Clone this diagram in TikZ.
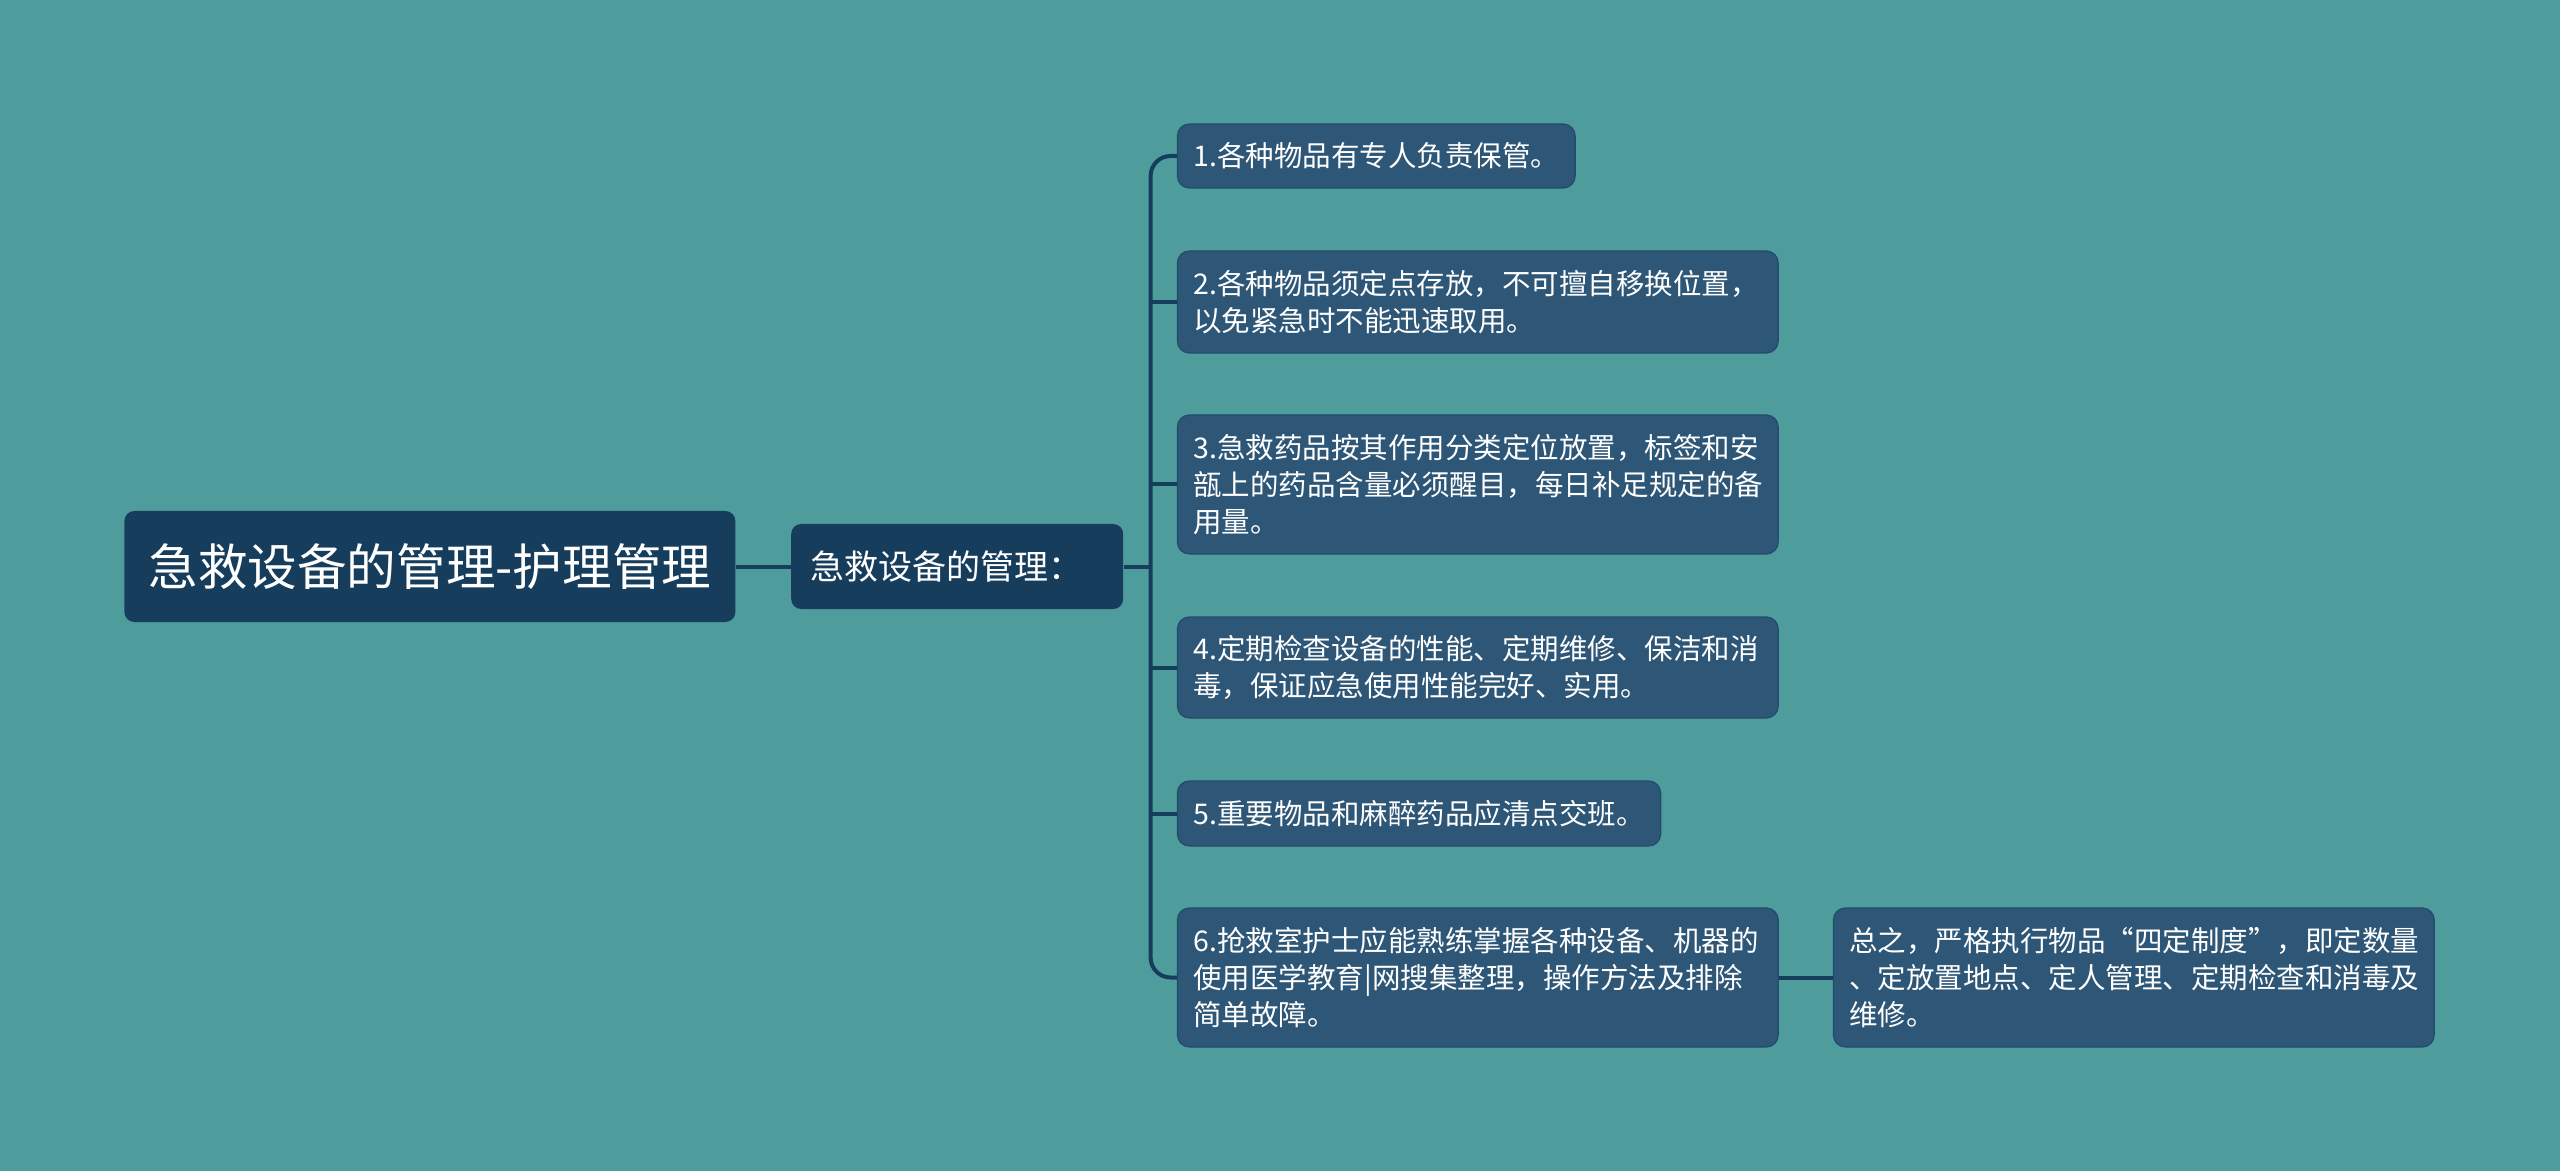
\documentclass[tikz,border=0pt]{standalone}
\usepackage{fontspec}
\setmainfont{Noto Sans CJK SC}
\usepackage{tikz}
\usetikzlibrary{positioning}
\definecolor{bgteal}{HTML}{4E9C9B}
\definecolor{rootblue}{HTML}{173D5D}
\definecolor{leafblue}{HTML}{2E5777}
\definecolor{linkblue}{HTML}{173D5D}

\begin{document}
\begin{tikzpicture}[x=0.5pt, y=-0.5pt, node distance=27.5pt,
    every node/.style={text=white, inner sep=0pt},
    topic/.style={fill=rootblue, rounded corners=5pt, minimum width=305.5pt, minimum height=55.5pt, font=\fontsize{24.8}{30}\selectfont},
    branch/.style={fill=rootblue, rounded corners=5pt, inner xsep=9.5pt, text width=147pt, align=left, minimum height=42.5pt, font=\fontsize{17}{21}\selectfont},
    leaf/.style={fill=leafblue, draw=linkblue!50!leafblue, line width=0.6pt, rounded corners=6pt, inner xsep=8pt, align=left, font=\fontsize{14.25}{18.4}\selectfont},
    wide/.style={text width=284.4pt},
    link/.style={draw=linkblue, line width=2pt}]

        \fill[bgteal] (0,0) rectangle (2560,1171);

        \node[topic, anchor=west] (root) at (124,566.5) {急救设备的管理-护理管理};
        \node[branch] (sub) [right=of root] {急救设备的管理：};
        \coordinate[right=13.5pt of sub] (hub);

        \node[leaf, minimum height=32pt] (l1) [right=26.6pt of sub, yshift=205.25pt] {1.各种物品有专人负责保管。};
        \node[leaf, wide, minimum height=51pt] (l2) [right=26.6pt of sub, yshift=132.25pt] {2.各种物品须定点存放，不可擅自移换位置，\\以免紧急时不能迅速取用。};
        \node[leaf, wide, minimum height=69.5pt] (l3) [right=26.6pt of sub, yshift=41pt] {3.急救药品按其作用分类定位放置，标签和安\\瓿上的药品含量必须醒目，每日补足规定的备\\用量。};
        \node[leaf, wide, minimum height=50.5pt] (l4) [right=26.6pt of sub, yshift=-50.5pt] {4.定期检查设备的性能、定期维修、保洁和消\\毒，保证应急使用性能完好、实用。};
        \node[leaf, minimum height=32.5pt] (l5) [right=26.6pt of sub, yshift=-123.5pt] {5.重要物品和麻醉药品应清点交班。};
        \node[leaf, wide, minimum height=69.5pt] (l6) [right=26.6pt of sub, yshift=-205.5pt] {6.抢救室护士应能熟练掌握各种设备、机器的\\使用医学教育|网搜集整理，操作方法及排除\\简单故障。};

        \node[leaf, wide, minimum height=69.5pt] (sum) [right=27pt of l6] {总之，严格执行物品“四定制度”，即定数量\\、定放置地点、定人管理、定期检查和消毒及\\维修。};

        % spine of the bracket
        \draw[link, rounded corners=10pt] (l1) -| (hub) |- (l6);

        \path [link]
          (root) edge [] (sub)
          (sub) edge [] (hub)
          (hub |- l2) edge [] (l2)
          (hub |- l3) edge [] (l3)
          (hub |- l4) edge [] (l4)
          (hub |- l5) edge [] (l5)
          (l6) edge [] (sum);

\end{tikzpicture}
\end{document}
